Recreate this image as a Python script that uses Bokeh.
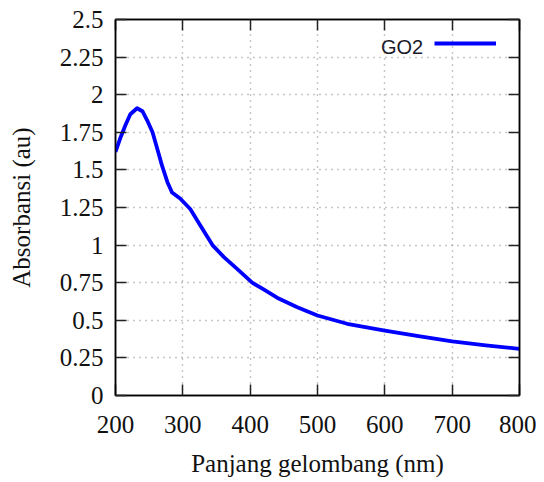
from bokeh.plotting import figure
from bokeh.models import (Range1d, LinearAxis, FixedTicker, Label, Legend, LegendItem,
                          CustomJSTickFormatter)
from bokeh.embed import file_html
from bokeh.resources import INLINE

# data
wavelength = [200, 207, 215, 222, 232, 240, 247, 255, 262, 269, 277, 284, 296, 311, 326,
              344, 361, 381, 403, 420, 440, 470, 500, 544, 600, 650, 700, 750, 800]
absorbance = [1.62, 1.71, 1.80, 1.87, 1.91, 1.89, 1.83, 1.75, 1.64, 1.53, 1.42, 1.35, 1.31,
              1.24, 1.13, 1.00, 0.92, 0.84, 0.75, 0.705, 0.65, 0.587, 0.532, 0.477, 0.432,
              0.395, 0.36, 0.334, 0.31]
series_name = "GO2"
x_ticks = [200, 300, 400, 500, 600, 700, 800]
y_ticks = [0, 0.25, 0.5, 0.75, 1, 1.25, 1.5, 1.75, 2, 2.25, 2.5]
y_tick_labels = ["0", "0.25", "0.5", "0.75", "1", "1.25", "1.5", "1.75", "2", "2.25", "2.5"]
x_label = "Panjang gelombang (nm)"
y_label = "Absorbansi (au)"

SERIF = "Liberation Serif"
TXT = "#111111"

p = figure(frame_width=404, frame_height=376,
           min_border_left=115, min_border_top=19, min_border_right=17, min_border_bottom=80,
           x_range=Range1d(200, 800), y_range=Range1d(0, 2.5),
           output_backend="svg", toolbar_location=None,
           x_axis_location=None, y_axis_location=None)

p.outline_line_color = "black"
p.outline_line_width = 1.5

def style_axis(ax, labels=True):
    ax.major_tick_in = 11
    ax.major_tick_out = 0
    ax.minor_tick_line_color = None
    ax.major_tick_line_color = "#222222"
    ax.major_tick_line_width = 1.5
    ax.axis_line_color = "black"
    ax.axis_line_width = 1.5
    if labels:
        ax.major_label_text_font = SERIF
        ax.major_label_text_font_size = "25px"
        ax.major_label_text_color = TXT
        ax.axis_label_text_font = SERIF
        ax.axis_label_text_font_size = "25px"
        ax.axis_label_text_font_style = "normal"
        ax.axis_label_text_color = TXT
    else:
        ax.formatter = CustomJSTickFormatter(code="return ''")
        ax.major_label_text_color = None
        ax.major_label_standoff = 0

xb = LinearAxis(ticker=FixedTicker(ticks=x_ticks), axis_label=x_label)
style_axis(xb)
xb.major_label_standoff = 20
xb.axis_label_standoff = 14
p.add_layout(xb, "below")

yl = LinearAxis(ticker=FixedTicker(ticks=y_ticks), axis_label=y_label)
style_axis(yl)
yl.major_label_overrides = {t: s for t, s in zip(y_ticks, y_tick_labels)}
yl.major_label_standoff = 12
yl.axis_label_standoff = 22
p.add_layout(yl, "left")

xt = LinearAxis(ticker=FixedTicker(ticks=x_ticks))
style_axis(xt, labels=False)
p.add_layout(xt, "above")

yr = LinearAxis(ticker=FixedTicker(ticks=y_ticks))
style_axis(yr, labels=False)
p.add_layout(yr, "right")

p.xgrid.ticker = FixedTicker(ticks=x_ticks)
p.ygrid.ticker = FixedTicker(ticks=y_ticks)
for g in (p.xgrid, p.ygrid):
    g.grid_line_color = "#8c8c8c"
    g.grid_line_dash = "1 5"
    g.grid_line_width = 1.4

r = p.line(wavelength, absorbance, line_color="#0000ff", line_width=3.8,
           line_join="round")

# gnuplot-style key: text then line sample
legend = Legend(items=[LegendItem(label=" ", renderers=[r])], location=(319, 348),
                glyph_width=62, glyph_height=8, label_height=8, label_width=0,
                label_standoff=0, padding=0, margin=0, spacing=0,
                border_line_color=None, background_fill_alpha=0,
                label_text_font_size="1px")
p.add_layout(legend, "center")

key = Label(x=657, y=2.32, text=series_name, text_align="right", text_baseline="middle",
            text_font="Liberation Sans", text_font_size="20px", text_color="#1a1a2a")
p.add_layout(key)

open("out.html", "w").write(file_html(p, INLINE))
